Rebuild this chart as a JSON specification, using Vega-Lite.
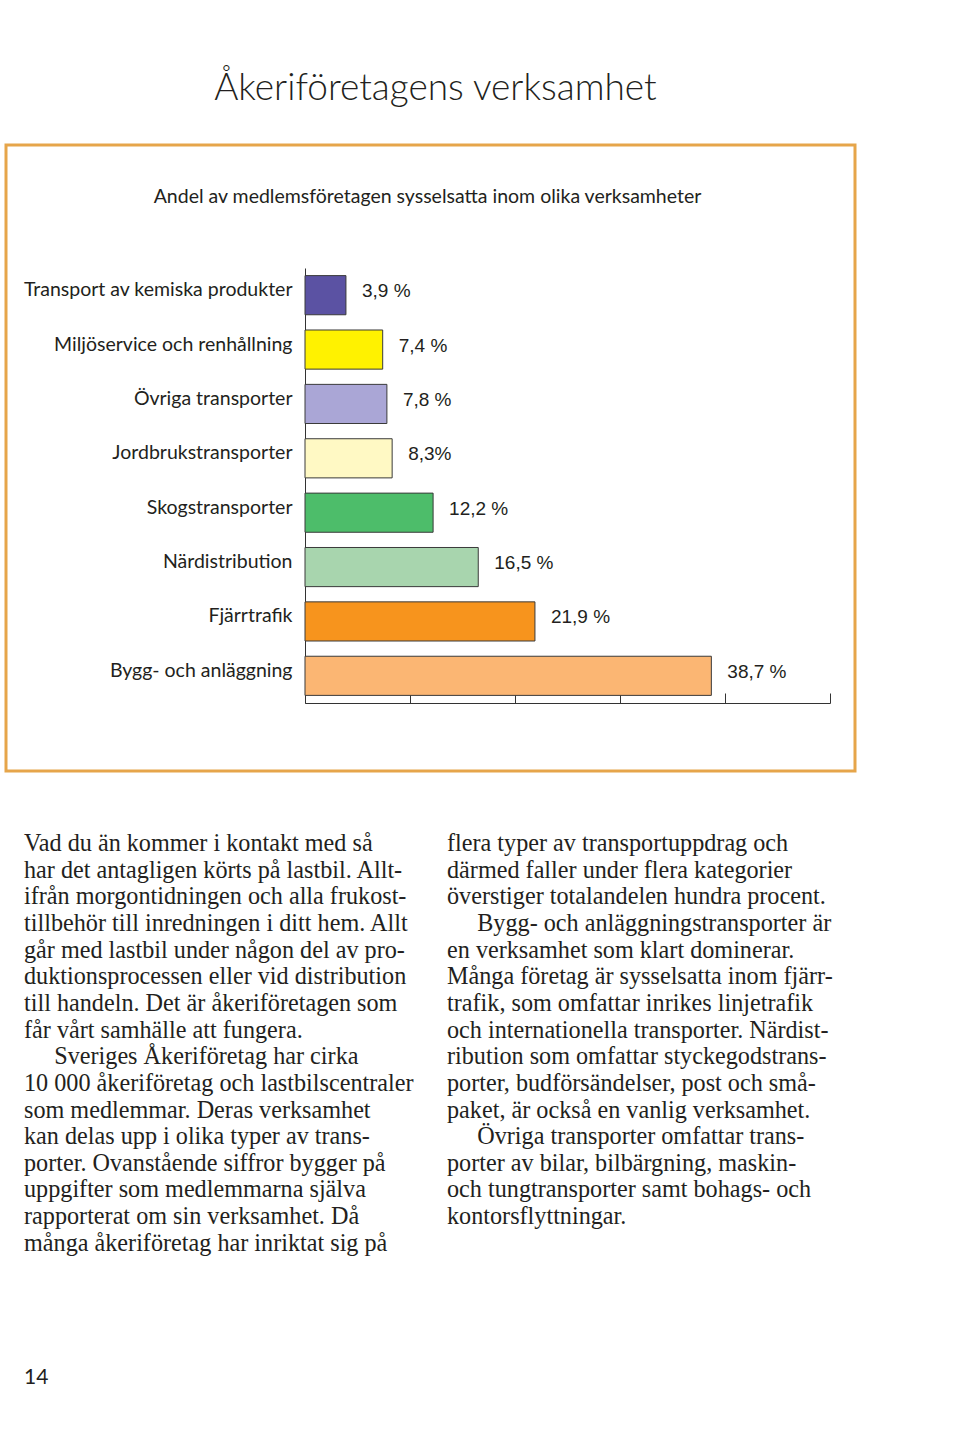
{
  "$schema": "https://vega.github.io/schema/vega-lite/v6.json",
  "background": "white",
  "padding": {"left": 4, "top": 69, "right": 0, "bottom": 0},
  "title": {
    "text": "Åkeriföretagens verksamhet",
    "font": "Lato",
    "fontSize": 37,
    "fontWeight": 300,
    "color": "#231f20",
    "anchor": "middle",
    "frame": "bounds",
    "dx": 5,
    "offset": 36
  },
  "datasets": {
    "bars": [
      {"kategori": "Transport av kemiska produkter", "andel": 3.9, "etikett": "3,9 %"},
      {"kategori": "Miljöservice och renhållning", "andel": 7.4, "etikett": "7,4 %"},
      {"kategori": "Övriga transporter", "andel": 7.8, "etikett": "7,8 %"},
      {"kategori": "Jordbrukstransporter", "andel": 8.3, "etikett": "8,3%"},
      {"kategori": "Skogstransporter", "andel": 12.2, "etikett": "12,2 %"},
      {"kategori": "Närdistribution", "andel": 16.5, "etikett": "16,5 %"},
      {"kategori": "Fjärrtrafik", "andel": 21.9, "etikett": "21,9 %"},
      {"kategori": "Bygg- och anläggning", "andel": 38.7, "etikett": "38,7 %"}
    ],
    "body": [
      {"spalt": "vänster", "rad": 1, "text": "Vad du än kommer i kontakt med så"},
      {"spalt": "vänster", "rad": 2, "text": "har det antagligen körts på lastbil. Allt-"},
      {"spalt": "vänster", "rad": 3, "text": "ifrån morgontidningen och alla frukost-"},
      {"spalt": "vänster", "rad": 4, "text": "tillbehör till inredningen i ditt hem. Allt"},
      {"spalt": "vänster", "rad": 5, "text": "går med lastbil under någon del av pro-"},
      {"spalt": "vänster", "rad": 6, "text": "duktionsprocessen eller vid distribution"},
      {"spalt": "vänster", "rad": 7, "text": "till handeln. Det är åkeriföretagen som"},
      {"spalt": "vänster", "rad": 8, "text": "får vårt samhälle att fungera."},
      {"spalt": "vänster", "rad": 9, "text": "\u200b\u00a0\u00a0\u00a0\u00a0\u00a0Sveriges Åkeriföretag har cirka"},
      {"spalt": "vänster", "rad": 10, "text": "10 000 åkeriföretag och lastbilscentraler"},
      {"spalt": "vänster", "rad": 11, "text": "som medlemmar. Deras verksamhet"},
      {"spalt": "vänster", "rad": 12, "text": "kan delas upp i olika typer av trans-"},
      {"spalt": "vänster", "rad": 13, "text": "porter. Ovanstående siffror bygger på"},
      {"spalt": "vänster", "rad": 14, "text": "uppgifter som medlemmarna själva"},
      {"spalt": "vänster", "rad": 15, "text": "rapporterat om sin verksamhet. Då"},
      {"spalt": "vänster", "rad": 16, "text": "många åkeriföretag har inriktat sig på"},
      {"spalt": "höger", "rad": 1, "text": "flera typer av transportuppdrag och"},
      {"spalt": "höger", "rad": 2, "text": "därmed faller under flera kategorier"},
      {"spalt": "höger", "rad": 3, "text": "överstiger totalandelen hundra procent."},
      {"spalt": "höger", "rad": 4, "text": "\u200b\u00a0\u00a0\u00a0\u00a0\u00a0Bygg- och anläggningstransporter är"},
      {"spalt": "höger", "rad": 5, "text": "en verksamhet som klart dominerar."},
      {"spalt": "höger", "rad": 6, "text": "Många företag är sysselsatta inom fjärr-"},
      {"spalt": "höger", "rad": 7, "text": "trafik, som omfattar inrikes linjetrafik"},
      {"spalt": "höger", "rad": 8, "text": "och internationella transporter. Närdist-"},
      {"spalt": "höger", "rad": 9, "text": "ribution som omfattar styckegodstrans-"},
      {"spalt": "höger", "rad": 10, "text": "porter, budförsändelser, post och små-"},
      {"spalt": "höger", "rad": 11, "text": "paket, är också en vanlig verksamhet."},
      {"spalt": "höger", "rad": 12, "text": "\u200b\u00a0\u00a0\u00a0\u00a0\u00a0Övriga transporter omfattar trans-"},
      {"spalt": "höger", "rad": 13, "text": "porter av bilar, bilbärgning, maskin-"},
      {"spalt": "höger", "rad": 14, "text": "och tungtransporter samt bohags- och"},
      {"spalt": "höger", "rad": 15, "text": "kontorsflyttningar."}
    ],
    "sida": [
      {"spalt": "vänster", "rad": 21, "text": "14"}
    ]
  },
  "spacing": 20,
  "vconcat": [
    {
      "width": 849,
      "height": 626,
      "view": {"stroke": "#e6a54a", "strokeWidth": 3, "fill": "white"},
      "title": {
        "text": "Andel av medlemsföretagen sysselsatta inom olika verksamheter",
        "font": "Lato",
        "fontSize": 19.5,
        "fontWeight": 400,
        "color": "#231f20",
        "anchor": "middle",
        "frame": "group",
        "dx": -3,
        "offset": -62
      },
      "data": {"name": "bars"},
      "encoding": {
        "y": {
          "field": "kategori",
          "type": "nominal",
          "sort": null,
          "scale": {"range": [123, 558], "paddingInner": 0.28, "paddingOuter": 0.14},
          "axis": {
            "orient": "left",
            "offset": -299,
            "title": null,
            "domain": true,
            "domainColor": "#333333",
            "domainWidth": 1,
            "ticks": false,
            "labelPadding": 13,
            "labelOffset": -5,
            "labelFont": "Lato",
            "labelFontSize": 19.5,
            "labelColor": "#231f20",
            "labelLimit": 400
          }
        },
        "x": {
          "field": "andel",
          "type": "quantitative",
          "scale": {"domain": [0, 50], "range": [299, 824], "nice": false},
          "axis": {
            "orient": "bottom",
            "offset": -68,
            "title": null,
            "values": [0, 10, 20, 30, 40, 50],
            "labels": false,
            "grid": false,
            "domain": true,
            "domainColor": "#333333",
            "ticks": true,
            "tickSize": -10,
            "tickColor": "#333333"
          }
        }
      },
      "layer": [
        {
          "mark": {"type": "bar", "stroke": "#3a3a3a", "strokeWidth": 1},
          "encoding": {
            "color": {
              "field": "kategori",
              "type": "nominal",
              "legend": null,
              "scale": {
                "domain": ["Transport av kemiska produkter", "Miljöservice och renhållning", "Övriga transporter", "Jordbrukstransporter", "Skogstransporter", "Närdistribution", "Fjärrtrafik", "Bygg- och anläggning"],
                "range": ["#5b52a3", "#fff200", "#aaa6d6", "#fff9c4", "#4dbd6a", "#a8d5ae", "#f7941d", "#fbb673"]
              }
            }
          }
        },
        {
          "mark": {"type": "text", "align": "left", "baseline": "middle", "dx": 16, "dy": -4, "font": "Liberation Sans", "fontSize": 19, "color": "#231f20"},
          "encoding": {"text": {"field": "etikett"}}
        }
      ]
    },
    {
      "width": 849,
      "height": 620,
      "view": {"stroke": null},
      "layer": [
        {
          "data": {"name": "body"},
          "mark": {"type": "text", "align": "left", "baseline": "alphabetic", "font": "Liberation Serif", "fontSize": 24.2, "color": "#231f20"},
          "encoding": {
            "x": {"field": "spalt", "type": "nominal", "scale": {"type": "point", "domain": ["vänster", "höger"], "range": [18, 441], "padding": 0}, "axis": null},
            "y": {"field": "rad", "type": "quantitative", "scale": {"domain": [1, 21], "range": [58, 591], "nice": false, "zero": false}, "axis": null},
            "text": {"field": "text"}
          }
        },
        {
          "data": {"name": "sida"},
          "mark": {"type": "text", "align": "left", "baseline": "alphabetic", "font": "Lato", "fontSize": 21, "color": "#231f20"},
          "encoding": {
            "x": {"field": "spalt", "type": "nominal"},
            "y": {"field": "rad", "type": "quantitative"},
            "text": {"field": "text"}
          }
        }
      ]
    }
  ]
}
